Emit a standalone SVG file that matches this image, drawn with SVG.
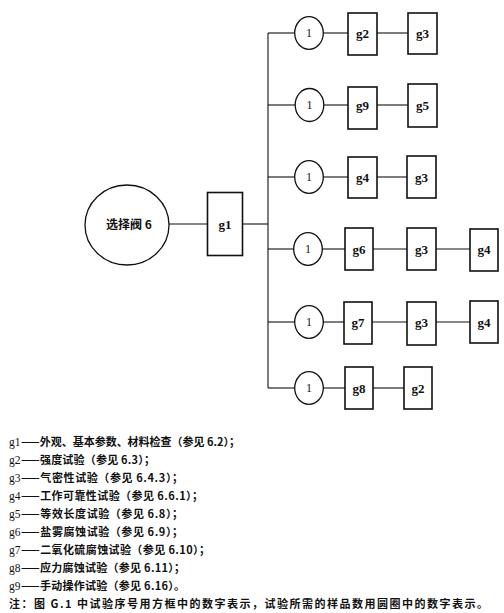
<svg xmlns="http://www.w3.org/2000/svg" width="504" height="613" viewBox="0 0 504 613">
<style>
.bg{fill:#ffffff}
.box{fill:#ffffff;stroke:#111;stroke-width:1.6}
.circ{fill:#ffffff;stroke:#111;stroke-width:1.3}
.ln{stroke:#111;stroke-width:1.1;fill:none}
.bl{font-family:"Liberation Serif","DejaVu Serif",serif;font-size:13px;font-weight:bold;fill:#111;text-anchor:middle}
.cl{font-family:"Liberation Serif","DejaVu Serif",serif;font-size:12px;fill:#111;text-anchor:middle}
.big{font-family:"Noto Sans CJK SC","Noto Sans",sans-serif;font-size:12px;font-weight:bold;fill:#111;text-anchor:middle}
.lg{font-family:"Liberation Serif","DejaVu Serif",serif;font-size:11.5px;fill:#111}
.lt{font-family:"Noto Sans CJK SC","Noto Sans",sans-serif;font-size:11px;font-weight:bold;fill:#111}
</style>
<rect class="bg" x="0" y="0" width="504" height="613"/>
<g id="connectors">
<line class="ln" x1="169" y1="224" x2="207" y2="224"/>
<line class="ln" x1="243" y1="224" x2="268" y2="224"/>
<line class="ln" x1="268" y1="33" x2="268" y2="388"/>
<line class="ln" x1="268" y1="33" x2="295" y2="33"/>
<line class="ln" x1="323" y1="33" x2="348" y2="33"/>
<line class="ln" x1="377" y1="33" x2="408" y2="33"/>
<line class="ln" x1="268" y1="105" x2="295" y2="105"/>
<line class="ln" x1="323" y1="105" x2="348" y2="105"/>
<line class="ln" x1="377" y1="105" x2="408" y2="105"/>
<line class="ln" x1="268" y1="177" x2="295" y2="177"/>
<line class="ln" x1="323" y1="177" x2="348" y2="177"/>
<line class="ln" x1="377" y1="177" x2="407" y2="177"/>
<line class="ln" x1="268" y1="249" x2="294" y2="249"/>
<line class="ln" x1="322" y1="249" x2="345" y2="249"/>
<line class="ln" x1="373" y1="249" x2="407" y2="249"/>
<line class="ln" x1="436" y1="249" x2="470" y2="249"/>
<line class="ln" x1="268" y1="322" x2="295" y2="322"/>
<line class="ln" x1="323" y1="322" x2="344" y2="322"/>
<line class="ln" x1="372" y1="322" x2="407" y2="322"/>
<line class="ln" x1="436" y1="322" x2="470" y2="322"/>
<line class="ln" x1="268" y1="388" x2="295" y2="388"/>
<line class="ln" x1="323" y1="388" x2="345" y2="388"/>
<line class="ln" x1="373" y1="388" x2="404" y2="388"/>
</g>
<g id="start">
<ellipse class="circ" cx="127" cy="225" rx="42" ry="40"/>
<text class="big" x="129" y="228.5">选择阀 6</text>
</g>
<g id="g1"><rect class="box" x="207.5" y="192.5" width="35" height="63"/><text class="bl" x="225" y="228.5">g1</text></g>
<g id="r1c"><ellipse class="circ" cx="309" cy="33" rx="14.3" ry="16.3"/><text class="cl" x="309" y="37">1</text></g>
<g id="r1a"><rect class="box" x="348" y="13" width="29" height="42"/><text class="bl" x="362.5" y="37.5">g2</text></g>
<g id="r1b"><rect class="box" x="408" y="13" width="29" height="41"/><text class="bl" x="422.5" y="37.5">g3</text></g>
<g id="r2c"><ellipse class="circ" cx="309.5" cy="105" rx="14.3" ry="16.5"/><text class="cl" x="309.5" y="109">1</text></g>
<g id="r2a"><rect class="box" x="348" y="87" width="29" height="42"/><text class="bl" x="362.5" y="109.5">g9</text></g>
<g id="r2b"><rect class="box" x="408" y="84" width="29" height="43"/><text class="bl" x="422.5" y="109.5">g5</text></g>
<g id="r3c"><ellipse class="circ" cx="309" cy="177" rx="14.3" ry="16.3"/><text class="cl" x="309" y="181">1</text></g>
<g id="r3a"><rect class="box" x="348" y="157" width="29" height="41"/><text class="bl" x="362.5" y="181.5">g4</text></g>
<g id="r3b"><rect class="box" x="407" y="156" width="29" height="42"/><text class="bl" x="421.5" y="181.5">g3</text></g>
<g id="r4c"><ellipse class="circ" cx="308" cy="249" rx="14.3" ry="16.3"/><text class="cl" x="308" y="253">1</text></g>
<g id="r4a"><rect class="box" x="345" y="228" width="28" height="42"/><text class="bl" x="359" y="253.5">g6</text></g>
<g id="r4b"><rect class="box" x="407" y="228" width="29" height="42"/><text class="bl" x="421.5" y="253.5">g3</text></g>
<g id="r4d"><rect class="box" x="470" y="229" width="28" height="42"/><text class="bl" x="484" y="253.5">g4</text></g>
<g id="r5c"><ellipse class="circ" cx="309" cy="322" rx="14.3" ry="16.3"/><text class="cl" x="309" y="326">1</text></g>
<g id="r5a"><rect class="box" x="344" y="302" width="28" height="42"/><text class="bl" x="358" y="326.5">g7</text></g>
<g id="r5b"><rect class="box" x="407" y="302" width="29" height="43"/><text class="bl" x="421.5" y="326.5">g3</text></g>
<g id="r5d"><rect class="box" x="470" y="301" width="28" height="42"/><text class="bl" x="484" y="326.5">g4</text></g>
<g id="r6c"><ellipse class="circ" cx="309" cy="388" rx="14.3" ry="16.3"/><text class="cl" x="309" y="392">1</text></g>
<g id="r6a"><rect class="box" x="345" y="367" width="28" height="42"/><text class="bl" x="359" y="392.5">g8</text></g>
<g id="r6b"><rect class="box" x="404" y="367" width="28" height="42"/><text class="bl" x="418" y="392.5">g2</text></g>
<g id="legend">
<text class="lg" x="9" y="445.5">g1</text><text class="lt" x="21" y="445.5" textLength="219" lengthAdjust="spacing">——外观、基本参数、材料检查（参见 6.2）；</text>
<text class="lg" x="9" y="463.6">g2</text><text class="lt" x="21" y="463.6" textLength="134" lengthAdjust="spacing">——强度试验（参见 6.3）；</text>
<text class="lg" x="9" y="481.7">g3</text><text class="lt" x="21" y="481.7" textLength="162" lengthAdjust="spacing">——气密性试验（参见 6.4.3）；</text>
<text class="lg" x="9" y="499.8">g4</text><text class="lt" x="21" y="499.8" textLength="182" lengthAdjust="spacing">——工作可靠性试验（参见 6.6.1）；</text>
<text class="lg" x="9" y="517.9">g5</text><text class="lt" x="21" y="517.9" textLength="162" lengthAdjust="spacing">——等效长度试验（参见 6.8）；</text>
<text class="lg" x="9" y="536">g6</text><text class="lt" x="21" y="536" textLength="162" lengthAdjust="spacing">——盐雾腐蚀试验（参见 6.9）；</text>
<text class="lg" x="9" y="554.1">g7</text><text class="lt" x="21" y="554.1" textLength="189" lengthAdjust="spacing">——二氧化硫腐蚀试验（参见 6.10）；</text>
<text class="lg" x="9" y="572.2">g8</text><text class="lt" x="21" y="572.2" textLength="164" lengthAdjust="spacing">——应力腐蚀试验（参见 6.11）；</text>
<text class="lg" x="9" y="590.3">g9</text><text class="lt" x="21" y="590.3" textLength="164" lengthAdjust="spacing">——手动操作试验（参见 6.16）。</text>
<text class="lt" x="9" y="608.4" textLength="479" lengthAdjust="spacing">注：图 G.1 中试验序号用方框中的数字表示，试验所需的样品数用圆圈中的数字表示。</text>
</g>
</svg>
